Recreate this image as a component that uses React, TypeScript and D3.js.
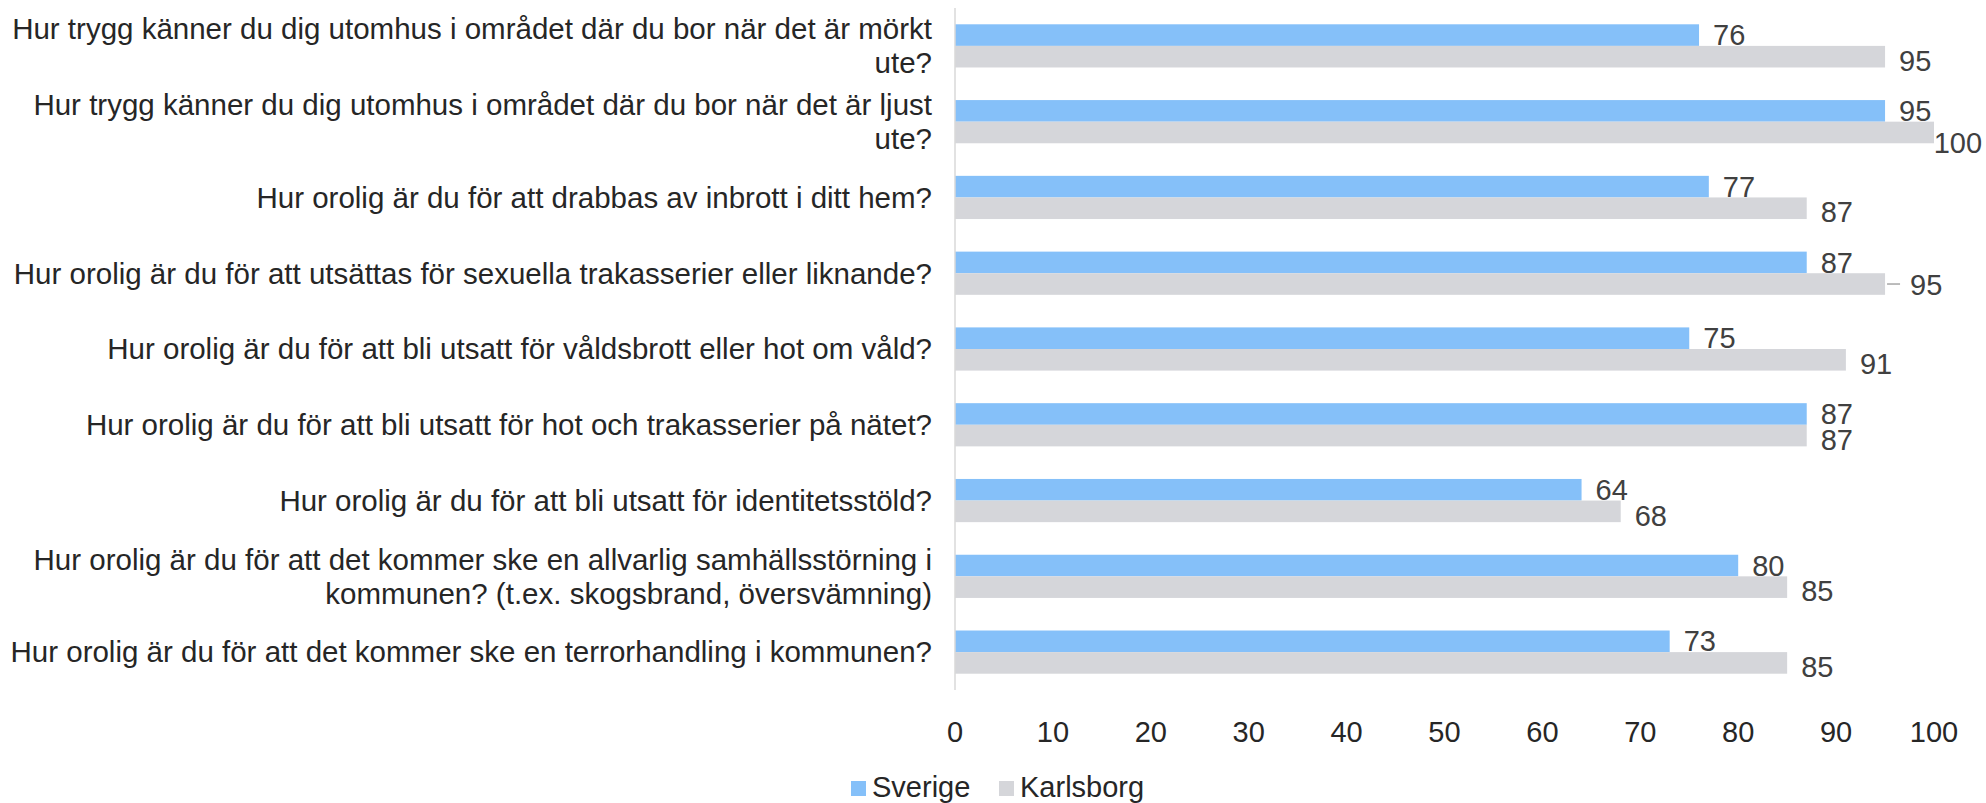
import React from "react";
import * as d3 from "d3";

const categories: string[][] = [
  ["Hur trygg känner du dig utomhus i området där du bor när det är mörkt", "ute?"],
  ["Hur trygg känner du dig utomhus i området där du bor när det är ljust", "ute?"],
  ["Hur orolig är du för att drabbas av inbrott i ditt hem?"],
  ["Hur orolig är du för att utsättas för sexuella trakasserier eller liknande?"],
  ["Hur orolig är du för att bli utsatt för våldsbrott eller hot om våld?"],
  ["Hur orolig är du för att bli utsatt för hot och trakasserier på nätet?"],
  ["Hur orolig är du för att bli utsatt för identitetsstöld?"],
  ["Hur orolig är du för att det kommer ske en allvarlig samhällsstörning i", "kommunen? (t.ex. skogsbrand, översvämning)"],
  ["Hur orolig är du för att det kommer ske en terrorhandling i kommunen?"],
];
const seriesNames = ["Sverige", "Karlsborg"];
const sverige = [76, 95, 77, 87, 75, 87, 64, 80, 73];
const karlsborg = [95, 100, 87, 95, 91, 87, 68, 85, 85];
const xTicks = [0, 10, 20, 30, 40, 50, 60, 70, 80, 90, 100];
// data labels that were dragged away from their bar and show a leader line: [category index, series index]
const leaderLabels: [number, number][] = [[3, 1]];

const W = 1986;
const H = 803;
const FONT = "'Liberation Sans', Arial, sans-serif";
const FS_CAT = 29.5;
const FS = 29;
const TEXT = "#262626";
const colors = ["#85C0F9", "#D5D6DA"];

export default function App() {
  const x = d3.scaleLinear().domain([0, 100]).range([955, 1934]);
  const ids = categories.map((_, i) => String(i));
  const y = d3.scaleBand<string>().domain(ids).range([8, 690]).paddingInner(0.43).paddingOuter(0.215);
  const sub = d3.scaleBand<string>().domain(seriesNames).range([0, y.bandwidth()]);
  const values = [sverige, karlsborg];

  return (
    <svg width={W} height={H} style={{ position: "absolute", left: 0, top: 0, background: "#fff" }} fontFamily={FONT}>
      {/* bars */}
      {ids.map((id, i) => (
        <g key={id}>
          {seriesNames.map((s, si) => {
            const v = values[si][i];
            const y0 = (y(id) as number) + (sub(s) as number);
            return (
              <rect key={s} x={x(0)} y={y0} width={x(v) - x(0)} height={sub.bandwidth()} fill={colors[si]} />
            );
          })}
        </g>
      ))}
      {/* category axis line */}
      <line x1={x(0)} x2={x(0)} y1={8} y2={690} stroke="#D9D9D9" strokeWidth={1.5} />
      {/* data labels */}
      {ids.map((id, i) => (
        <g key={"l" + id}>
          {seriesNames.map((s, si) => {
            const v = values[si][i];
            const yc = (y(id) as number) + (sub(s) as number) + sub.bandwidth() / 2;
            const label = String(v);
            const tw = label.length * 0.556 * FS;
            const hasLeader = leaderLabels.some(([ci, sj]) => ci === i && sj === si);
            let lx = x(v) + (hasLeader ? 25 : 14);
            let dy = si === 1 ? 4 : 0;
            if (hasLeader) dy = 1;
            if (lx + tw > W - 4) {
              lx = W - 4 - tw;
              dy += 6;
            }
            return (
              <g key={s}>
                {hasLeader && (
                  <line x1={x(v) + 2} x2={x(v) + 15} y1={yc} y2={yc} stroke="#A6A6A6" strokeWidth={1.5} />
                )}
                <text x={lx} y={yc + dy} dy="0.35em" fontSize={FS} fill="#404040">
                  {label}
                </text>
              </g>
            );
          })}
        </g>
      ))}
      {/* category labels */}
      {categories.map((lines, i) => {
        const yc = (y(String(i)) as number) + y.bandwidth() / 2;
        const lh = 34;
        const start = yc - ((lines.length - 1) * lh) / 2;
        return (
          <text key={"c" + i} x={932} fontSize={FS_CAT} fill={TEXT} textAnchor="end">
            {lines.map((ln, k) => (
              <tspan key={k} x={932} y={start + k * lh} dy="0.35em">
                {ln}
              </tspan>
            ))}
          </text>
        );
      })}
      {/* x tick labels */}
      {xTicks.map((t) => (
        <text key={"t" + t} x={x(t)} y={732} dy="0.35em" textAnchor="middle" fontSize={FS} fill={TEXT}>
          {t}
        </text>
      ))}
      {/* legend */}
      <g>
        <rect x={851} y={781} width={15} height={15} fill={colors[0]} />
        <text x={872} y={787} dy="0.35em" fontSize={FS} fill={TEXT}>{seriesNames[0]}</text>
        <rect x={999} y={781} width={15} height={15} fill={colors[1]} />
        <text x={1020} y={787} dy="0.35em" fontSize={FS} fill={TEXT}>{seriesNames[1]}</text>
      </g>
    </svg>
  );
}
